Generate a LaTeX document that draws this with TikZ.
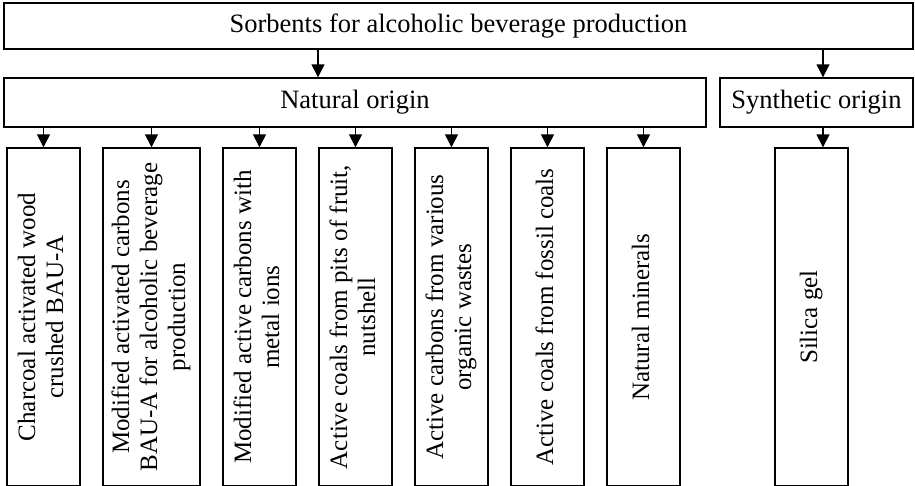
\documentclass[tikz,border=0pt]{standalone}
\usepackage{fontspec}
\setmainfont{Liberation Serif}
\usepackage{graphicx}
\usetikzlibrary{arrows.meta}
\newcommand{\vtext}[1]{\rotatebox{90}{\begin{tabular}{@{}c@{}}#1\end{tabular}}}
\begin{document}
\begin{tikzpicture}[x=1pt,y=-1pt,
  box/.style={draw, line width=1.4pt, inner sep=0pt, font=\fontsize{25}{28}\selectfont},
  hbox/.style={box, font=\fontsize{26.5}{30}\selectfont},
  arr/.style={-{Triangle[length=13pt,width=13pt]}, line width=1.4pt}]
\useasboundingbox (0,0) rectangle (915,485);
\node[hbox, minimum width=909, minimum height=46] (top) at (458.5,26) {Sorbents for alcoholic beverage production};
\node[hbox, minimum width=702, minimum height=49] (nat) at (355,102.5) {Natural origin};
\node[hbox, minimum width=193, minimum height=49] (syn) at (816.5,102.5) {Synthetic origin};
\coordinate (an) at (318,0);
\coordinate (as) at (823,0);
\draw[arr] (top.south -| an) -- (nat.north -| an);
\draw[arr] (top.south -| as) -- (syn.north -| as);
\node[box, minimum width=73, minimum height=338] (c1) at (43.5,317) {\vtext{Charcoal activated wood\\crushed BAU-A}};
\node[box, minimum width=97, minimum height=338] (c2) at (151.5,317) {\vtext{Modified activated carbons\\BAU-A for alcoholic beverage\\production}};
\node[box, minimum width=73, minimum height=338] (c3) at (259.5,317) {\vtext{Modified active carbons with\\metal ions}};
\node[box, minimum width=73, minimum height=338] (c4) at (355.5,317) {\vtext{Active coals from pits of fruit,\\nutshell}};
\node[box, minimum width=73, minimum height=338] (c5) at (451.5,317) {\vtext{Active carbons from various\\organic wastes}};
\node[box, minimum width=73, minimum height=338] (c6) at (547.5,317) {\vtext{Active coals from fossil coals}};
\node[box, minimum width=73, minimum height=338] (c7) at (643.5,317) {\vtext{Natural minerals}};
\node[box, minimum width=73, minimum height=338] (c8) at (811.5,317) {\vtext{Silica gel}};
\foreach \c in {c1,c2,c3,c4,c5,c6,c7}
  \draw[arr] (nat.south -| \c.north) -- (\c.north);
\draw[arr] (syn.south -| as) -- (c8.north -| as);
\end{tikzpicture}
\end{document}
